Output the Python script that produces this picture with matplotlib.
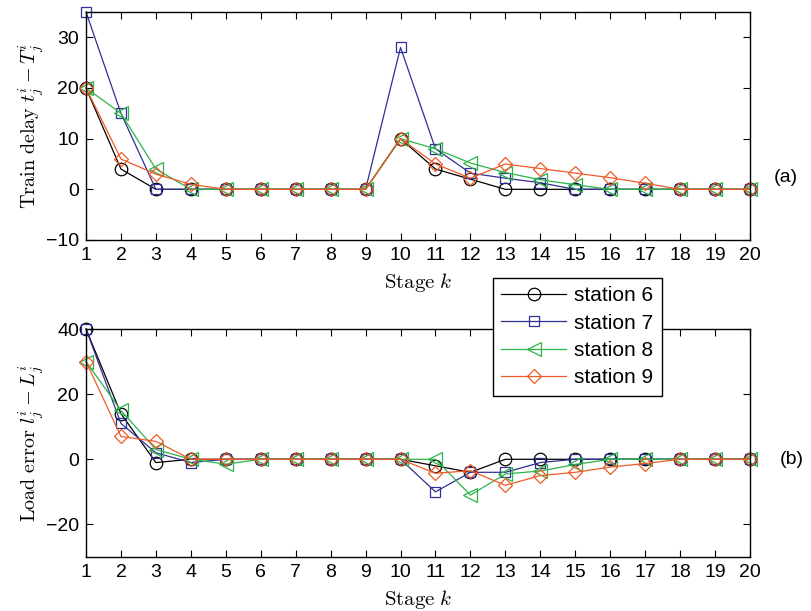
import numpy as np
import matplotlib
matplotlib.use('Agg')
import matplotlib.pyplot as plt

plt.rcParams['font.family'] = ['Liberation Sans', 'DejaVu Sans']
plt.rcParams['mathtext.fontset'] = 'cm'

stages = list(range(1, 21))
names = ['station 6', 'station 7', 'station 8', 'station 9']

# train delay t - T
delay_s6 = [20, 4, 0, 0, 0, 0, 0, 0, 0, 10, 4, 2, 0, 0, 0, 0, 0, 0, 0, 0]
delay_s7 = [35, 15, 0, 0, 0, 0, 0, 0, 0, 28, 8, 3.2, 2.2, 1.3, 0, 0, 0, 0, 0, 0]
delay_s8 = [20, 15, 4, 0, 0, 0, 0, 0, 0, 10, 8, 5.2, 3.3, 1.9, 0.9, 0, 0, 0, 0, 0]
delay_s9 = [20, 6, 3, 1, 0, 0, 0, 0, 0, 10, 5, 2.2, 5, 4.1, 3.2, 2.3, 1.2, 0, 0, 0]

# load error l - L
load_s6 = [40, 14, -1, 0, 0, 0, 0, 0, 0, 0, -2, -4, 0, 0, 0, 0, 0, 0, 0, 0]
load_s7 = [40, 11, 2, -1, 0, 0, 0, 0, 0, 0, -10, -4, -4, -1, 0, 0, 0, 0, 0, 0]
load_s8 = [30, 15, 3, 0, -1.5, 0, 0, 0, 0, 0, 0, -11, -4.5, -3.6, -1.6, 0, 0, 0, 0, 0]
load_s9 = [30, 7, 5.5, 0, 0, 0, 0, 0, 0, 0, -4.3, -3.5, -8, -5, -4, -2.4, -1.3, 0, 0, 0]

colors = ['black', '#2E3192', '#2DB34A', '#F05A28']
markers = ['o', 's', '<', 'D']
msizes = [9, 7.5, 10, 7.5]

fig = plt.figure(figsize=(8.12, 6.11), dpi=100)
ax1 = fig.add_axes([86/812, 1-240/611, 664/812, 228/611])
ax2 = fig.add_axes([86/812, 1-557/611, 664/812, 228/611])

handles = []
for ax, data in [(ax1, [delay_s6, delay_s7, delay_s8, delay_s9]),
                 (ax2, [load_s6, load_s7, load_s8, load_s9])]:
    hs = []
    for d, c, m, ms, n in zip(data, colors, markers, msizes, names):
        h, = ax.plot(stages, d, color=c, marker=m, markersize=ms,
                     markerfacecolor='none', markeredgecolor=c,
                     markeredgewidth=0.9, linewidth=0.9, label=n, clip_on=False)
        hs.append(h)
    handles = hs
    ax.set_xlim(1, 20)
    ax.set_xticks(stages)
    ax.tick_params(direction='in', top=True, right=True, length=5,
                   labelsize=14, width=0.8, pad=5)
    for s in ax.spines.values():
        s.set_linewidth(1.0)
    ax.set_xlabel(r'$\mathrm{Stage}\ k$', fontsize=15, labelpad=5)

ax1.set_ylim(-10, 35)
ax1.set_yticks([-10, 0, 10, 20, 30])
ax1.set_ylabel(r'$\mathrm{Train\ delay}\ t_j^i - T_j^i$', fontsize=14.5, labelpad=0)
ax2.set_ylim(-30, 40)
ax2.set_yticks([-20, 0, 20, 40])
ax2.set_ylabel(r'$\mathrm{Load\ error}\ l_j^i - L_j^i$', fontsize=14.5, labelpad=0)

fig.text(786/812, 1-177/611, '(a)', fontsize=14, ha='center', va='center')
fig.text(792/812, 1-459/611, '(b)', fontsize=14, ha='center', va='center')

leg = fig.legend(handles=handles, loc='upper left',
                 bbox_to_anchor=(493/812, 1-278/611), fontsize=15,
                 handlelength=3.1, frameon=True, fancybox=False,
                 edgecolor='black', framealpha=1, borderpad=0.4,
                 labelspacing=0.4, handletextpad=0.4, borderaxespad=0)
leg.get_frame().set_linewidth(1.0)

fig.savefig('out.png', dpi=100)
